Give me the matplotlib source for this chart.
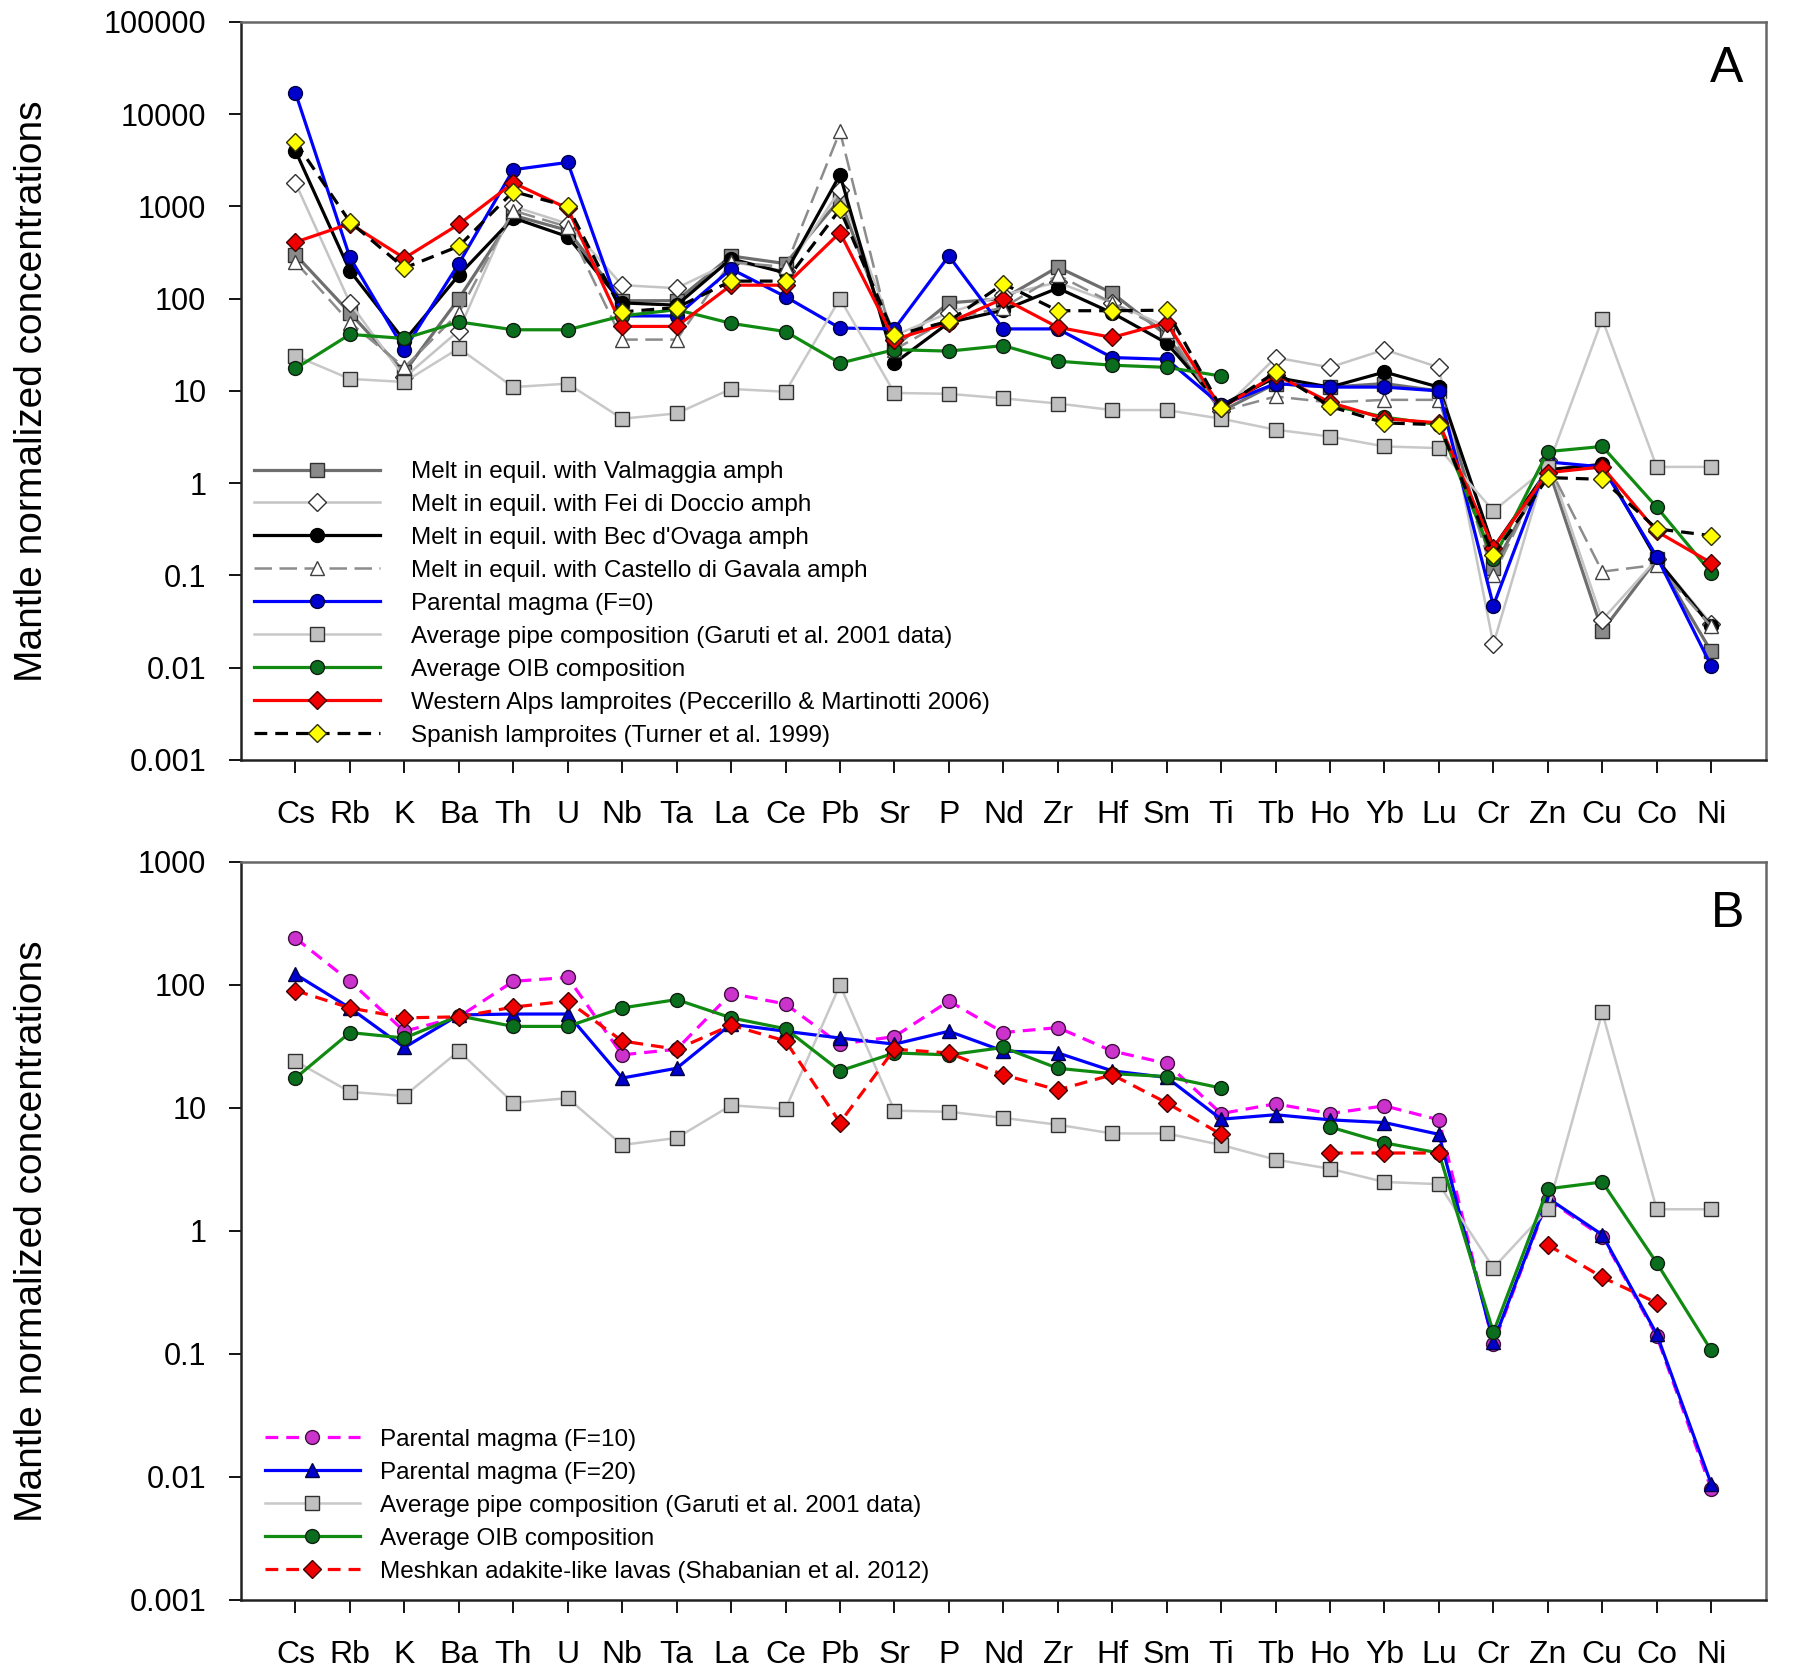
import numpy as np
import matplotlib
matplotlib.use('Agg')
import matplotlib.pyplot as plt
from matplotlib.ticker import NullLocator

plt.rcParams['font.family'] = ['Liberation Sans', 'DejaVu Sans']

nan = np.nan

elements = ['Cs', 'Rb', 'K', 'Ba', 'Th', 'U', 'Nb', 'Ta', 'La', 'Ce', 'Pb', 'Sr', 'P', 'Nd',
            'Zr', 'Hf', 'Sm', 'Ti', 'Tb', 'Ho', 'Yb', 'Lu', 'Cr', 'Zn', 'Cu', 'Co', 'Ni']

# panel A
valmaggia = [300, 70, 16, 100, 800, 550, 95, 95, 290, 240, 1200, 30, 90, 100,
             220, 115, 40, 6, 12, 11, 12, 10, 0.12, 1.5, 0.025, 0.15, 0.015]
fei_doccio = [1800, 90, 14, 45, 1000, 650, 140, 130, 250, 200, 1500, 40, 70, 110,
              150, 90, 50, 6, 23, 18, 28, 18, 0.018, 1.8, 0.033, 0.15, 0.03]
bec_ovaga = [4000, 200, 35, 180, 750, 470, 90, 85, 270, 190, 2200, 20, 55, 75,
             130, 70, 33, 7, 14, 11, 16, 11, 0.2, 1.4, 1.6, 0.15, 0.028]
castello = [250, 55, 18, 70, 900, 600, 36, 36, 250, 220, 6500, 28, 60, 80,
            180, 90, 45, 6, 8.7, 7.5, 8, 8, 0.1, 1.6, 0.11, 0.13, 0.028]
parental_f0 = [17000, 280, 28, 240, 2500, 3000, 65, 65, 210, 105, 48, 47, 290, 47,
               47, 23, 22, 7, 12, 11, 11, 10, 0.047, 1.7, 1.5, 0.16, 0.0105]
pipe = [24, 13.5, 12.5, 29, 11, 12, 5, 5.7, 10.5, 9.8, 100, 9.5, 9.3, 8.3,
        7.3, 6.2, 6.2, 5, 3.8, 3.2, 2.5, 2.4, 0.5, 1.5, 60, 1.5, 1.5]
oib = [17.5, 41, 37, 56, 46, 46, 65, 76, 54, 44, 20, 28, 27, 31,
       21, 19, 18, 14.5, nan, 7, 5.2, 4.3, 0.15, 2.2, 2.5, 0.55, 0.107]
w_alps = [410, 650, 275, 640, 1800, 950, 50, 50, 140, 140, 520, 36, 55, 100,
          49, 38, 55, 6.5, 15, 7.5, 5, 4.5, 0.2, 1.3, 1.5, 0.3, 0.137]
spanish = [5000, 680, 215, 370, 1450, 1000, 72, 80, 155, 155, 930, 40, 57, 145,
           74, 74, 75, 6.5, 16, 6.8, 4.5, 4.3, 0.165, 1.15, 1.1, 0.32, 0.27]

# panel B
parental_f10 = [240, 107, 42, 55, 107, 115, 27, 30, 85, 70, 33, 38, 74, 41,
                45, 29, 23, 9, 10.8, 9, 10.4, 8, 0.12, 1.8, 0.9, 0.14, 0.008]
parental_f20 = [122, 65, 31, 57, 58, 58, 17.5, 21, 48, 42, 37, 33, 42, 29,
                28, 20, 17.7, 8.1, 8.8, 8, 7.6, 6.1, 0.125, 1.85, 0.93, 0.145, 0.0088]
meshkan = [90, 65, 54, 55, 66, 74, 35, 30, 47, 35, 7.6, 30, 28, 18.6,
           14, 18.6, 11, 6.1, nan, 4.3, 4.3, 4.3, nan, 0.77, 0.42, 0.26, nan]

labels_a = ['Melt in equil. with Valmaggia amph',
            'Melt in equil. with Fei di Doccio amph',
            "Melt in equil. with Bec d'Ovaga amph",
            'Melt in equil. with Castello di Gavala amph',
            'Parental magma (F=0)',
            'Average pipe composition (Garuti et al. 2001 data)',
            'Average OIB composition',
            'Western Alps lamproites (Peccerillo & Martinotti 2006)',
            'Spanish lamproites (Turner et al. 1999)']
labels_b = ['Parental magma (F=10)',
            'Parental magma (F=20)',
            'Average pipe composition (Garuti et al. 2001 data)',
            'Average OIB composition',
            'Meshkan adakite-like lavas (Shabanian et al. 2012)']

x = np.arange(len(elements))

st_val = dict(color='#6e6e6e', lw=2.3, marker='s', ms=10, mfc='#8a8a8a', mec='#303030')
st_fei = dict(color='#c4c4c4', lw=1.8, marker='D', ms=9, mfc='white', mec='#303030')
st_bec = dict(color='black', lw=2.3, marker='o', ms=10, mfc='black', mec='black')
st_cas = dict(color='#8c8c8c', lw=1.8, ls=(0, (7, 3)), marker='^', ms=10, mfc='white', mec='#404040')
st_f0 = dict(color='#0000ff', lw=2.3, marker='o', ms=10, mfc='#0000cc', mec='#000044')
st_pipe = dict(color='#c8c8c8', lw=1.8, marker='s', ms=10, mfc='#c0c0c0', mec='#303030')
st_oib = dict(color='#118a11', lw=2.3, marker='o', ms=10, mfc='#0a6e1e', mec='#102010')
st_alps = dict(color='#ff0000', lw=2.3, marker='D', ms=9, mfc='#ee0000', mec='#400000')
st_spa = dict(color='black', lw=2.3, ls=(0, (4, 2.5)), marker='D', ms=9, mfc='#ffff00', mec='#303000')
st_f10 = dict(color='#ff00ff', lw=2.3, ls=(0, (4, 2.5)), marker='o', ms=10, mfc='#cc33cc', mec='#401040')
st_f20 = dict(color='#0000ff', lw=2.3, marker='^', ms=10, mfc='#0000cc', mec='#000044')
st_mesh = dict(color='#ff0000', lw=2.3, ls=(0, (4, 2.5)), marker='D', ms=9, mfc='#ee0000', mec='#400000')

series_a = [valmaggia, fei_doccio, bec_ovaga, castello, parental_f0, pipe, oib, w_alps, spanish]
styles_a = [st_val, st_fei, st_bec, st_cas, st_f0, st_pipe, st_oib, st_alps, st_spa]
series_b = [parental_f10, parental_f20, pipe, oib, meshkan]
styles_b = [st_f10, st_f20, st_pipe, st_oib, st_mesh]


def style_axes(ax, ymin_exp, ymax_exp):
    ax.set_yscale('log')
    ax.set_ylim(10.0 ** ymin_exp, 10.0 ** ymax_exp)
    ax.set_xlim(-1, 27)
    ticks = [10.0 ** k for k in range(ymin_exp, ymax_exp + 1)]
    ax.set_yticks(ticks)
    ax.set_yticklabels(['%g' % t if t >= 1 else ('%.10f' % t).rstrip('0') for t in ticks])
    ax.yaxis.set_minor_locator(NullLocator())
    ax.set_xticks(x)
    ax.set_xticklabels(elements)
    ax.tick_params(axis='x', direction='out', length=9, width=1.3, labelsize=23, pad=20)
    ax.tick_params(axis='y', direction='out', length=9, width=1.3, labelsize=22, pad=16)
    for side in ['left', 'bottom']:
        ax.spines[side].set_color('#222222')
        ax.spines[side].set_linewidth(1.8)
    for side in ['top', 'right']:
        ax.spines[side].set_color('#666666')
        ax.spines[side].set_linewidth(1.8)
    ax.set_ylabel('Mantle normalized concentrations', fontsize=28)
    ax.yaxis.set_label_coords(-0.125, 0.5)


fig = plt.figure(figsize=(18, 16.72), dpi=100)
ax_a = fig.add_axes([0.1339, 0.5455, 0.847, 0.4414])
ax_b = fig.add_axes([0.1339, 0.0431, 0.847, 0.4414])

for vals, lab, st in zip(series_a, labels_a, styles_a):
    ax_a.plot(x, vals, label=lab, **st)
for vals, lab, st in zip(series_b, labels_b, styles_b):
    ax_b.plot(x, vals, label=lab, **st)

style_axes(ax_a, -3, 5)
style_axes(ax_b, -3, 3)

ax_a.legend(loc='upper left', bbox_to_anchor=(0.0085, 0.405), frameon=False, fontsize=17.5,
            handlelength=5.2, handletextpad=1.25, labelspacing=0.45, borderaxespad=0,
            borderpad=0, numpoints=1)
ax_b.legend(loc='upper left', bbox_to_anchor=(0.0157, 0.232), frameon=False, fontsize=17.5,
            handlelength=3.9, handletextpad=0.85, labelspacing=0.45, borderaxespad=0,
            borderpad=0, numpoints=1)

ax_a.text(0.9744, 0.936, 'A', transform=ax_a.transAxes, fontsize=36, ha='center', va='center')
ax_b.text(0.975, 0.930, 'B', transform=ax_b.transAxes, fontsize=36, ha='center', va='center')

fig.savefig('out.png', dpi=100)
